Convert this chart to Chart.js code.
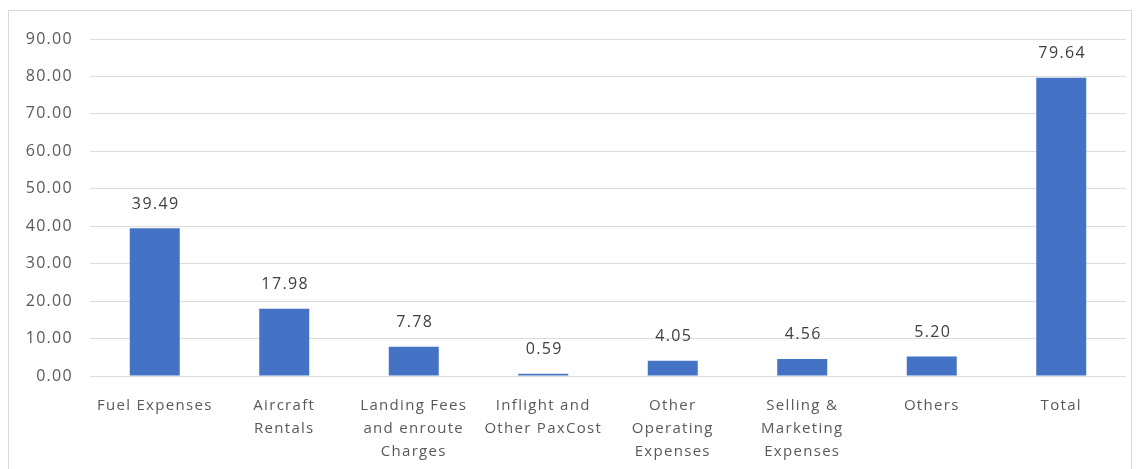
<!DOCTYPE html>
<html>
<head>
<meta charset="utf-8">
<script src="https://cdn.jsdelivr.net/npm/chart.js@4.4.1/dist/chart.umd.min.js"></script>
<style>
  body { margin: 0; background: #fff; }
  #frame { position: absolute; left: 8px; top: 10px; width: 1124px; height: 470px; border: 1px solid #d9d9d9; box-sizing: border-box; }
  #wrap { position: absolute; left: 0; top: 0; width: 1137px; height: 469px; }
</style>
</head>
<body>
<div id="frame"></div>
<div id="wrap"><canvas id="chart"></canvas></div>
<script>
const categories = [
    ['Fuel Expenses'],
    ['Aircraft', 'Rentals'],
    ['Landing Fees', 'and enroute', 'Charges'],
    ['Inflight and', 'Other PaxCost'],
    ['Other', 'Operating', 'Expenses'],
    ['Selling &', 'Marketing', 'Expenses'],
    ['Others'],
    ['Total']
];
const costValues = [39.49, 17.98, 7.78, 0.59, 4.05, 4.56, 5.20, 79.64];
const yTicks = [0, 10, 20, 30, 40, 50, 60, 70, 80, 90];

const textFont = "'Open Sans', sans-serif";

// wider letter spacing, like the original's text
const spacing = {
    id: 'spacing',
    beforeDraw(chart) { chart.ctx.letterSpacing = '1.3px'; }
};

// value labels above each bar
const valueLabels = {
    id: 'valueLabels',
    afterDatasetsDraw(chart) {
        const ctx = chart.ctx;
        const meta = chart.getDatasetMeta(0);
        ctx.save();
        ctx.font = '16px ' + textFont;
        ctx.letterSpacing = '1.4px';
        ctx.fillStyle = '#404040';
        ctx.textAlign = 'center';
        ctx.textBaseline = 'middle';
        meta.data.forEach((bar, i) => {
            ctx.fillText(costValues[i].toFixed(2), bar.x + 1, bar.y - 24);
        });
        ctx.restore();
    }
};

const ctx = document.getElementById('chart').getContext('2d');
new Chart(ctx, {
    type: 'bar',
    data: {
        labels: categories,
        datasets: [{
            data: costValues,
            backgroundColor: '#4472C4',
            borderWidth: 0,
            barPercentage: 1,
            categoryPercentage: 0.386
        }]
    },
    options: {
        responsive: true,
        maintainAspectRatio: false,
        animation: false,
        layout: { padding: { top: 39, right: 11, left: 0, bottom: 0 } },
        plugins: {
            legend: { display: false },
            tooltip: { enabled: false }
        },
        scales: {
            x: {
                grid: { display: false, drawTicks: false },
                border: { display: false },
                ticks: {
                    color: '#595959',
                    font: { family: textFont, size: 15, lineHeight: 1.53 },
                    padding: 18,
                    maxRotation: 0,
                    autoSkip: false
                },
                afterFit(scale) { scale.height = 93; }
            },
            y: {
                min: 0,
                max: 90,
                afterBuildTicks(scale) { scale.ticks = yTicks.map(v => ({ value: v })); },
                grid: { color: '#e2d9d9', drawTicks: false },
                border: { display: false },
                ticks: {
                    color: '#595959',
                    font: { family: textFont, size: 16 },
                    padding: 17,
                    callback: v => v.toFixed(2)
                },
                afterFit(scale) { scale.width = 90; }
            }
        }
    },
    plugins: [spacing, valueLabels]
});
</script>
</body>
</html>
